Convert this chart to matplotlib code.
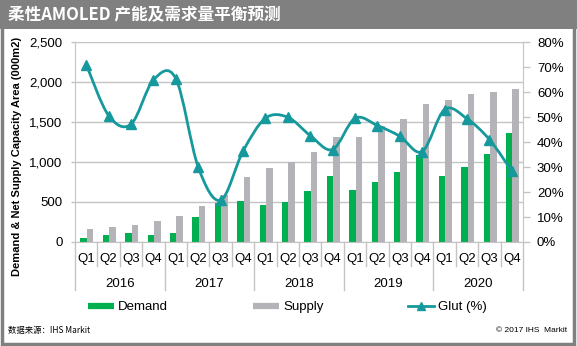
import matplotlib.pyplot as plt
from matplotlib.lines import Line2D
from matplotlib.patches import PathPatch, Rectangle
from matplotlib.path import Path
from matplotlib.ticker import FuncFormatter

plt.rcParams['font.family'] = ['Liberation Sans', 'Noto Sans CJK SC', 'DejaVu Sans']

years = ['2016', '2017', '2018', '2019', '2020']
quarters = ['Q1', 'Q2', 'Q3', 'Q4']

# capacity area, 000 m2
demand = [50, 88, 117, 88, 117, 313, 492, 513, 467, 500,
          638, 825, 654, 746, 879, 1092, 825, 938, 1104, 1358]
supply = [167, 183, 217, 267, 329, 450, 590, 808, 929, 996,
          1125, 1313, 1313, 1446, 1542, 1725, 1775, 1846, 1879, 1917]
# glut, percent
glut = [71, 50.6, 47.1, 64.8, 65.4, 30, 16.7, 36.3, 49.5, 49.9,
        42.6, 37, 49.5, 46.6, 42.3, 36.2, 53, 49.3, 41, 28.4]

green = '#00b050'
grey = '#b4b4b8'
teal = '#16999c'
frame = '#808080'
light = '#c4c4c4'

W, H = 577, 346
fig = plt.figure(figsize=(W / 100, H / 100), dpi=100)
ax = fig.add_axes([75 / W, 1 - 242 / H, 448 / W, 200 / H])

n = len(demand)
x = list(range(n))
bw = 0.29
ax.bar([i - bw / 2 + 0.03 for i in x], demand, width=bw, color=green, zorder=2)
ax.bar([i + bw / 2 + 0.03 for i in x], supply, width=bw, color=grey, zorder=2)

ax.set_xlim(-0.5, n - 0.5)
ax.set_ylim(0, 2500)
ax.set_yticks(range(0, 2501, 500))
ax.yaxis.set_major_formatter(FuncFormatter(lambda v, p: f'{int(v):,}'))
ax.set_axisbelow(True)
ax.grid(axis='y', color=light, lw=1)
ax.set_xticks([])
ax.spines['top'].set_visible(False)
for s in ['left', 'right', 'bottom']:
    ax.spines[s].set_color(light)
ax.tick_params(axis='y', length=3, width=1, color=light, labelsize=9.5, pad=6)

# two-level category axis
tr = ax.get_xaxis_transform()
for i, q in enumerate(quarters * len(years)):
    ax.annotate(q, (i, 0), xycoords=tr, xytext=(0, -12.5), textcoords='offset points',
                ha='center', va='center', fontsize=9.5)
for k, yr in enumerate(years):
    ax.annotate(yr, (k * 4 + 1.5, 0), xycoords=tr, xytext=(0, -30),
                textcoords='offset points', ha='center', va='center', fontsize=9.5)
for b in range(n + 1):
    depth = 0.24 if b % 4 == 0 else 0.12
    ax.plot([b - 0.5, b - 0.5], [0, -depth], transform=tr, color=light, lw=1,
            clip_on=False)

# glut on the right axis, drawn as a smooth curve through the points
ax2 = ax.twinx()
ax2.set_ylim(0, 80)
ax2.set_yticks(range(0, 81, 10))
ax2.yaxis.set_major_formatter(FuncFormatter(lambda v, p: f'{int(v)}%'))
ax2.tick_params(axis='y', length=5, width=1, color=light, labelsize=9.5, pad=5)
for s in ax2.spines.values():
    s.set_visible(False)

pts = list(zip(x, glut))
verts = [pts[0]]
codes = [Path.MOVETO]
for i in range(n - 1):
    p0 = pts[max(i - 1, 0)]
    p1 = pts[i]
    p2 = pts[i + 1]
    p3 = pts[min(i + 2, n - 1)]
    c1 = (p1[0] + (p2[0] - p0[0]) / 6, p1[1] + (p2[1] - p0[1]) / 6)
    c2 = (p2[0] - (p3[0] - p1[0]) / 6, p2[1] - (p3[1] - p1[1]) / 6)
    verts += [c1, c2, p2]
    codes += [Path.CURVE4] * 3
ax2.add_patch(PathPatch(Path(verts, codes), fill=False, edgecolor=teal, lw=2, zorder=3))
ax2.plot(x, glut, linestyle='none', marker='^', ms=7.5, color=teal, zorder=4)

fig.text(17 / W, 1 - 156 / H, 'Demand & Net Supply Capacity Area (000m2)',
         rotation=90, ha='center', va='center', fontsize=8, fontweight='bold')

handles = [
    Line2D([], [], color=green, lw=4.5, solid_capstyle='butt'),
    Line2D([], [], color=grey, lw=4.5, solid_capstyle='butt'),
    Line2D([], [], color=teal, lw=2, marker='^', ms=6),
]
fig.legend(handles, ['Demand', 'Supply', 'Glut (%)'], loc='center left',
           bbox_to_anchor=(88 / W, 1 - 307 / H), ncol=3, frameon=False,
           fontsize=9.5, handlelength=2.0, handletextpad=0.3, columnspacing=6.4,
           borderpad=0, borderaxespad=0)

# header bar and frame
fig.patches.append(Rectangle((0, 1 - 29 / H), 1, 29 / H, transform=fig.transFigure,
                             facecolor=frame, edgecolor='none', zorder=0))
fig.patches.append(Rectangle((1.5 / W, 2 / H), 1 - 4.5 / W, 1 - 3 / H,
                             transform=fig.transFigure, fill=False,
                             edgecolor=frame, lw=2.5, zorder=0))
fig.text(8 / W, 1 - 15 / H, '柔性AMOLED 产能及需求量平衡预测', color='white',
         fontsize=12, fontweight='bold', ha='left', va='center',
         family=['Noto Sans CJK SC', 'DejaVu Sans'])

fig.text(8 / W, 1 - 330 / H, '数据来源：IHS Markit', fontsize=6, ha='left', va='center',
         family=['Noto Sans CJK SC', 'DejaVu Sans'])
fig.text(567 / W, 1 - 331 / H, '© 2017 IHS  Markit', fontsize=6, ha='right', va='center')

fig.savefig('out.png', dpi=100)
